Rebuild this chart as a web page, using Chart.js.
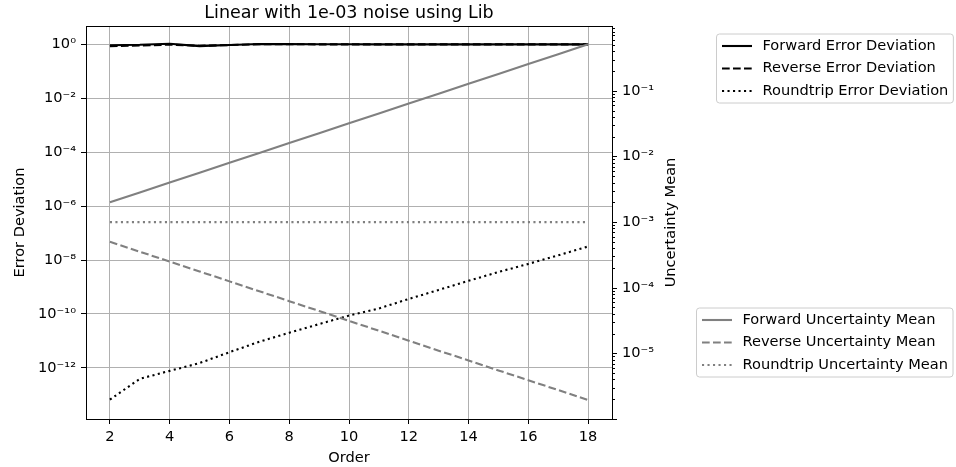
<!DOCTYPE html>
<html>
<head>
<meta charset="utf-8">
<script src="https://cdn.jsdelivr.net/npm/chart.js@4.4.1/dist/chart.umd.min.js"></script>
<style>
  html, body { margin: 0; padding: 0; background: #fff; }
</style>
</head>
<body>
<canvas id="chart" width="956" height="467"></canvas>
<script>
// data
const orders = [2, 3, 4, 5, 6, 7, 8, 9, 10, 11, 12, 13, 14, 15, 16, 17, 18];

const forwardErrDev = [0.95, 0.98, 1.07, 0.88, 0.97, 1.05, 1.04, 1.03, 1.03, 1.02, 1.02, 1.02, 1.02, 1.02, 1.02, 1.02, 1.02];
const reverseErrDev = [0.88, 0.92, 1.0, 0.9, 0.96, 1.03, 1.03, 1.02, 1.02, 1.02, 1.02, 1.02, 1.02, 1.02, 1.02, 1.02, 1.02];
const roundtripErrDev = [6.6e-14, 3.9e-13, 7.7e-13, 1.5e-12, 3.8e-12, 9.3e-12, 2.0e-11, 4.2e-11, 8.7e-11,
  1.6e-10, 3.6e-10, 7.8e-10, 1.7e-9, 3.6e-9, 7.2e-9, 1.5e-8, 3.2e-8];

const forwardUncMean = [0.002, 0.00283, 0.004, 0.00566, 0.008, 0.0113, 0.016, 0.0226, 0.032,
  0.0453, 0.064, 0.0905, 0.128, 0.181, 0.256, 0.362, 0.512];
const reverseUncMean = [5.0e-4, 3.54e-4, 2.5e-4, 1.77e-4, 1.25e-4, 8.84e-5, 6.25e-5, 4.42e-5, 3.13e-5,
  2.21e-5, 1.56e-5, 1.1e-5, 7.8e-6, 5.5e-6, 3.9e-6, 2.76e-6, 1.95e-6];
const roundtripUncMean = [1e-3, 1e-3, 1e-3, 1e-3, 1e-3, 1e-3, 1e-3, 1e-3, 1e-3,
  1e-3, 1e-3, 1e-3, 1e-3, 1e-3, 1e-3, 1e-3, 1e-3];

const xTicks = [2, 4, 6, 8, 10, 12, 14, 16, 18];
const leftTicks = [1e-12, 1e-10, 1e-8, 1e-6, 1e-4, 1e-2, 1e0];
const rightTicks = [1e-5, 1e-4, 1e-3, 1e-2, 1e-1];

const FONT = "'DejaVu Sans', 'Liberation Sans', sans-serif";
const FS = 14.6;
const GRID = '#b0b0b0';
const GRAY = '#808080';

const SUP = { '0': '\u2070', '1': '\u00b9', '2': '\u00b2', '3': '\u00b3', '4': '\u2074', '5': '\u2075',
  '6': '\u2076', '7': '\u2077', '8': '\u2078', '9': '\u2079', '-': '\u207b' };
function pow10Label(v) {
  const e = Math.round(Math.log10(v));
  return '10' + String(e).split('').map(c => SUP[c]).join('');
}

function pts(ys) {
  return orders.map((x, i) => ({ x: x, y: ys[i] }));
}

function line(label, ys, axis, color, dash, order) {
  return {
    label: label, data: pts(ys), yAxisID: axis,
    borderColor: color, backgroundColor: color,
    borderWidth: 2.1, borderDash: dash,
    pointRadius: 0, tension: 0, fill: false, order: order
  };
}

// extra drawing: top spine, right minor ticks, title, axis titles, two legends
const decor = {
  id: 'decor',
  afterDraw(chart) {
    const ctx = chart.ctx;
    const a = chart.chartArea;
    const yR = chart.scales.yR;
    ctx.save();

    ctx.strokeStyle = '#000';
    ctx.lineWidth = 1;
    ctx.beginPath();
    ctx.moveTo(a.left, Math.round(a.top) + 0.5);
    ctx.lineTo(a.right, Math.round(a.top) + 0.5);
    ctx.stroke();

    // right axis tick marks, major and minor
    for (let e = -6; e <= 0; e++) {
      for (let m = 1; m <= 9; m++) {
        const v = m * Math.pow(10, e);
        if (v < yR.min || v > yR.max) continue;
        const y = Math.round(yR.getPixelForValue(v)) + 0.5;
        const len = m === 1 ? 5 : 3;
        ctx.beginPath();
        ctx.moveTo(a.right, y);
        ctx.lineTo(a.right + len, y);
        ctx.stroke();
      }
    }

    ctx.fillStyle = '#000';
    const cx = (a.left + a.right) / 2;
    const cy = (a.top + a.bottom) / 2;
    ctx.textAlign = 'center';
    ctx.textBaseline = 'alphabetic';
    ctx.font = '17.5px ' + FONT;
    ctx.fillText('Linear with 1e-03 noise using Lib', cx, a.top - 8.5);

    ctx.font = FS + 'px ' + FONT;
    ctx.fillText('Order', cx, 461.5);

    ctx.save();
    ctx.translate(24, cy);
    ctx.rotate(-Math.PI / 2);
    ctx.fillText('Error Deviation', 0, 0);
    ctx.restore();

    ctx.save();
    ctx.translate(675, cy);
    ctx.rotate(-Math.PI / 2);
    ctx.fillText('Uncertainty Mean', 0, 0);
    ctx.restore();

    const sets = chart.data.datasets;
    drawLegend(ctx, sets.filter(d => d.yAxisID === 'y'), 716.5, 34);
    drawLegend(ctx, sets.filter(d => d.yAxisID === 'yR'), 696.5, 308);
    ctx.restore();
  }
};

function drawLegend(ctx, items, left, top) {
  ctx.font = FS + 'px ' + FONT;
  const rowH = 22.5;
  const textX = left + 46;
  let w = 0;
  items.forEach(d => { w = Math.max(w, ctx.measureText(d.label).width); });
  const right = Math.min(textX + w + 5, 955);
  const bottom = top + 12 + rowH * (items.length - 1) + 12;

  ctx.beginPath();
  ctx.roundRect(left, top, right - left, bottom - top, 3);
  ctx.fillStyle = 'rgba(255,255,255,0.8)';
  ctx.fill();
  ctx.strokeStyle = '#cccccc';
  ctx.lineWidth = 1;
  ctx.setLineDash([]);
  ctx.stroke();

  items.forEach((d, i) => {
    const y = top + 12 + i * rowH;
    ctx.beginPath();
    ctx.setLineDash(d.borderDash);
    ctx.strokeStyle = d.borderColor;
    ctx.lineWidth = d.borderWidth;
    ctx.moveTo(left + 5.5, y);
    ctx.lineTo(left + 35.5, y);
    ctx.stroke();
    ctx.setLineDash([]);
    ctx.fillStyle = '#000';
    ctx.textAlign = 'left';
    ctx.textBaseline = 'middle';
    ctx.fillText(d.label, textX, y);
  });
}

Chart.defaults.font.family = FONT;
Chart.defaults.font.size = FS;
Chart.defaults.color = '#000';

new Chart(document.getElementById('chart'), {
  type: 'line',
  data: {
    datasets: [
      line('Forward Error Deviation', forwardErrDev, 'y', '#000', [], 2),
      line('Reverse Error Deviation', reverseErrDev, 'y', '#000', [7.7, 3.3], 2),
      line('Roundtrip Error Deviation', roundtripErrDev, 'y', '#000', [2.1, 3.4], 2),
      line('Forward Uncertainty Mean', forwardUncMean, 'yR', GRAY, [], 1),
      line('Reverse Uncertainty Mean', reverseUncMean, 'yR', GRAY, [7.7, 3.3], 1),
      line('Roundtrip Uncertainty Mean', roundtripUncMean, 'yR', GRAY, [2.1, 3.4], 1)
    ]
  },
  options: {
    responsive: false,
    animation: false,
    devicePixelRatio: 1,
    layout: { padding: { top: 26, left: 0, right: 284, bottom: 0 } },
    plugins: { legend: { display: false }, title: { display: false }, tooltip: { enabled: false } },
    scales: {
      x: {
        type: 'linear', min: 1.2, max: 18.8,
        afterBuildTicks: s => { s.ticks = xTicks.map(v => ({ value: v })); },
        afterFit: s => { s.height = 48; },
        ticks: { padding: 4, maxRotation: 0, callback: v => String(v) },
        grid: { color: GRID, lineWidth: 1, tickColor: '#000', tickLength: 5 },
        border: { color: '#000', width: 1 }
      },
      y: {
        type: 'logarithmic', position: 'left',
        min: Math.pow(10, -13.9), max: Math.pow(10, 0.69),
        afterBuildTicks: s => { s.ticks = leftTicks.map(v => ({ value: v })); },
        afterFit: s => { s.width = 86; },
        ticks: { padding: 5, callback: v => pow10Label(v) },
        grid: { color: GRID, lineWidth: 1, tickColor: '#000', tickLength: 5 },
        border: { color: '#000', width: 1 }
      },
      yR: {
        type: 'logarithmic', position: 'right',
        min: Math.pow(10, -6.0), max: Math.pow(10, -0.012),
        afterBuildTicks: s => { s.ticks = rightTicks.map(v => ({ value: v })); },
        afterFit: s => { s.width = 60; },
        ticks: { padding: 10, callback: v => pow10Label(v) },
        grid: { drawOnChartArea: false, drawTicks: false },
        border: { color: '#000', width: 1 }
      }
    }
  },
  plugins: [decor]
});
</script>
</body>
</html>
